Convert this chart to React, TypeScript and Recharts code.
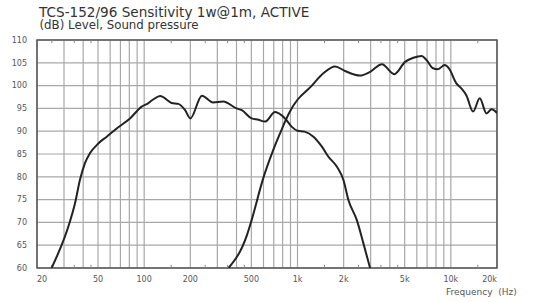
import React from 'react';
import { LineChart, Line, XAxis, YAxis, CartesianGrid, ReferenceLine, ReferenceArea } from 'recharts';

const titleText = 'TCS-152/96 Sensitivity 1w@1m, ACTIVE';
const subtitleText = '(dB) Level, Sound pressure';
const xAxisTitle = 'Frequency  (Hz)';

const gridFreqs = [20, 30, 40, 50, 60, 70, 80, 90, 100, 200, 300, 400, 500, 600, 700, 800, 900, 1000, 2000, 3000, 4000, 5000, 6000, 7000, 8000, 9000, 10000, 20000];
const labeledFreqs = [20, 50, 100, 200, 500, 1000, 2000, 5000, 10000, 20000];
const labelTexts = ['20', '50', '100', '200', '500', '1k', '2k', '5k', '10k', '20k'];
const minorFreqs = [25, 35, 45, 150, 250, 350, 450, 1500, 2500, 3500, 4500, 15000];
const dbTicks = [60, 65, 70, 75, 80, 85, 90, 95, 100, 105, 110];

const wooferHz = [24.9, 32.8, 35.4, 38.1, 41.1, 44.4, 50.2, 57, 66.2, 80.8, 96.4, 106, 115, 127, 151, 167, 185, 200, 238, 281, 328, 400, 433, 502, 556, 614, 714, 829, 915, 1000, 1111, 1270, 1443, 1590, 1808, 1993, 2148, 2438, 2690, 2974];
const wooferDb = [60, 70.2, 74.2, 79.3, 83, 85.2, 87.3, 88.8, 90.6, 92.8, 95.4, 96.1, 97, 97.7, 96.2, 96, 94.6, 92.8, 97.8, 96.3, 96.5, 95, 94.6, 92.8, 92.5, 92.1, 94.2, 92.8, 91, 90.1, 89.9, 88.8, 86.6, 84.4, 82.2, 79.3, 74.9, 70.5, 65.4, 60];

const tweeterHz = [355, 468, 502, 598, 695, 787, 829, 915, 1000, 1208, 1475, 1758, 2043, 2553, 2974, 3552, 4276, 5032, 5697, 6452, 6940, 7660, 8240, 9120, 9720, 10860, 11700, 12620, 13960, 15440, 17080, 18420, 20000];
const tweeterDb = [60, 67.2, 70.5, 79.7, 85.9, 90.3, 92.1, 95, 96.9, 99.6, 102.7, 104.2, 103.2, 102.2, 103, 104.7, 102.5, 105.2, 106.1, 106.5, 105.6, 103.8, 103.6, 104.5, 103.8, 100.5, 99.4, 97.9, 94.3, 97.2, 93.9, 94.8, 94];

const wooferData = wooferHz.map((f, i) => ({ f, db: wooferDb[i] }));
const tweeterData = tweeterHz.map((f, i) => ({ f, db: tweeterDb[i] }));

const FONT = '"DejaVu Sans", Verdana, sans-serif';

const XTick = (props: any) => {
  const { x, y, payload } = props;
  const idx = labeledFreqs.indexOf(payload.value);
  if (idx < 0) return <g />;
  const anchor = idx === 0 ? 'start' : idx === labeledFreqs.length - 1 ? 'end' : 'middle';
  return (
    <text x={x} y={y} dy="0.71em" textAnchor={anchor} fontSize={8} fill="#555" fontFamily={FONT}>
      {labelTexts[idx]}
    </text>
  );
};

export default function App() {
  return (
    <div style={{ position: 'absolute', left: 0, top: 0, width: 533, height: 302, background: '#fff' }}>
      <LineChart width={533} height={302} data={wooferData} margin={{ top: 40, right: 36, bottom: 4, left: 7 }}>
        <CartesianGrid stroke="#a8a8a8" strokeWidth={1.2} />
        <XAxis
          dataKey="f"
          type="number"
          scale="log"
          domain={[20, 20000]}
          allowDataOverflow
          ticks={gridFreqs}
          interval={0}
          tick={<XTick />}
          tickLine={false}
          axisLine={false}
          height={30}
        />
        <YAxis
          type="number"
          domain={[60, 110]}
          ticks={dbTicks}
          interval={0}
          allowDataOverflow
          width={30}
          tickLine={false}
          axisLine={false}
          tickMargin={4}
          tick={{ fontSize: 8, fill: '#555', fontFamily: FONT }}
        />
        {minorFreqs.map((f) => (
          <ReferenceLine key={'b' + f} segment={[{ x: f, y: 60 }, { x: f, y: 60.7 }]} stroke="#888" strokeWidth={1} />
        ))}
        {minorFreqs.map((f) => (
          <ReferenceLine key={'t' + f} segment={[{ x: f, y: 110 }, { x: f, y: 109.3 }]} stroke="#888" strokeWidth={1} />
        ))}
        <ReferenceArea x1={20} x2={20000} y1={60} y2={110} fill="none" fillOpacity={0} stroke="#555" strokeWidth={1.5} />
        <Line data={wooferData} dataKey="db" type="monotone" stroke="#222" strokeWidth={2} dot={false} isAnimationActive={false} />
        <Line data={tweeterData} dataKey="db" type="monotone" stroke="#222" strokeWidth={2} dot={false} isAnimationActive={false} />
      </LineChart>
      <svg width={533} height={302} style={{ position: 'absolute', left: 0, top: 0, pointerEvents: 'none' }}>
        <text x={39} y={16.7} fontSize={13.6} fill="#333" fontFamily={FONT}>{titleText}</text>
        <text x={39.5} y={29.3} fontSize={11.8} fill="#333" fontFamily={FONT}>{subtitleText}</text>
        <text x={446} y={295} fontSize={9} fill="#555" fontFamily={FONT} style={{ whiteSpace: 'pre' }}>{xAxisTitle}</text>
      </svg>
    </div>
  );
}
